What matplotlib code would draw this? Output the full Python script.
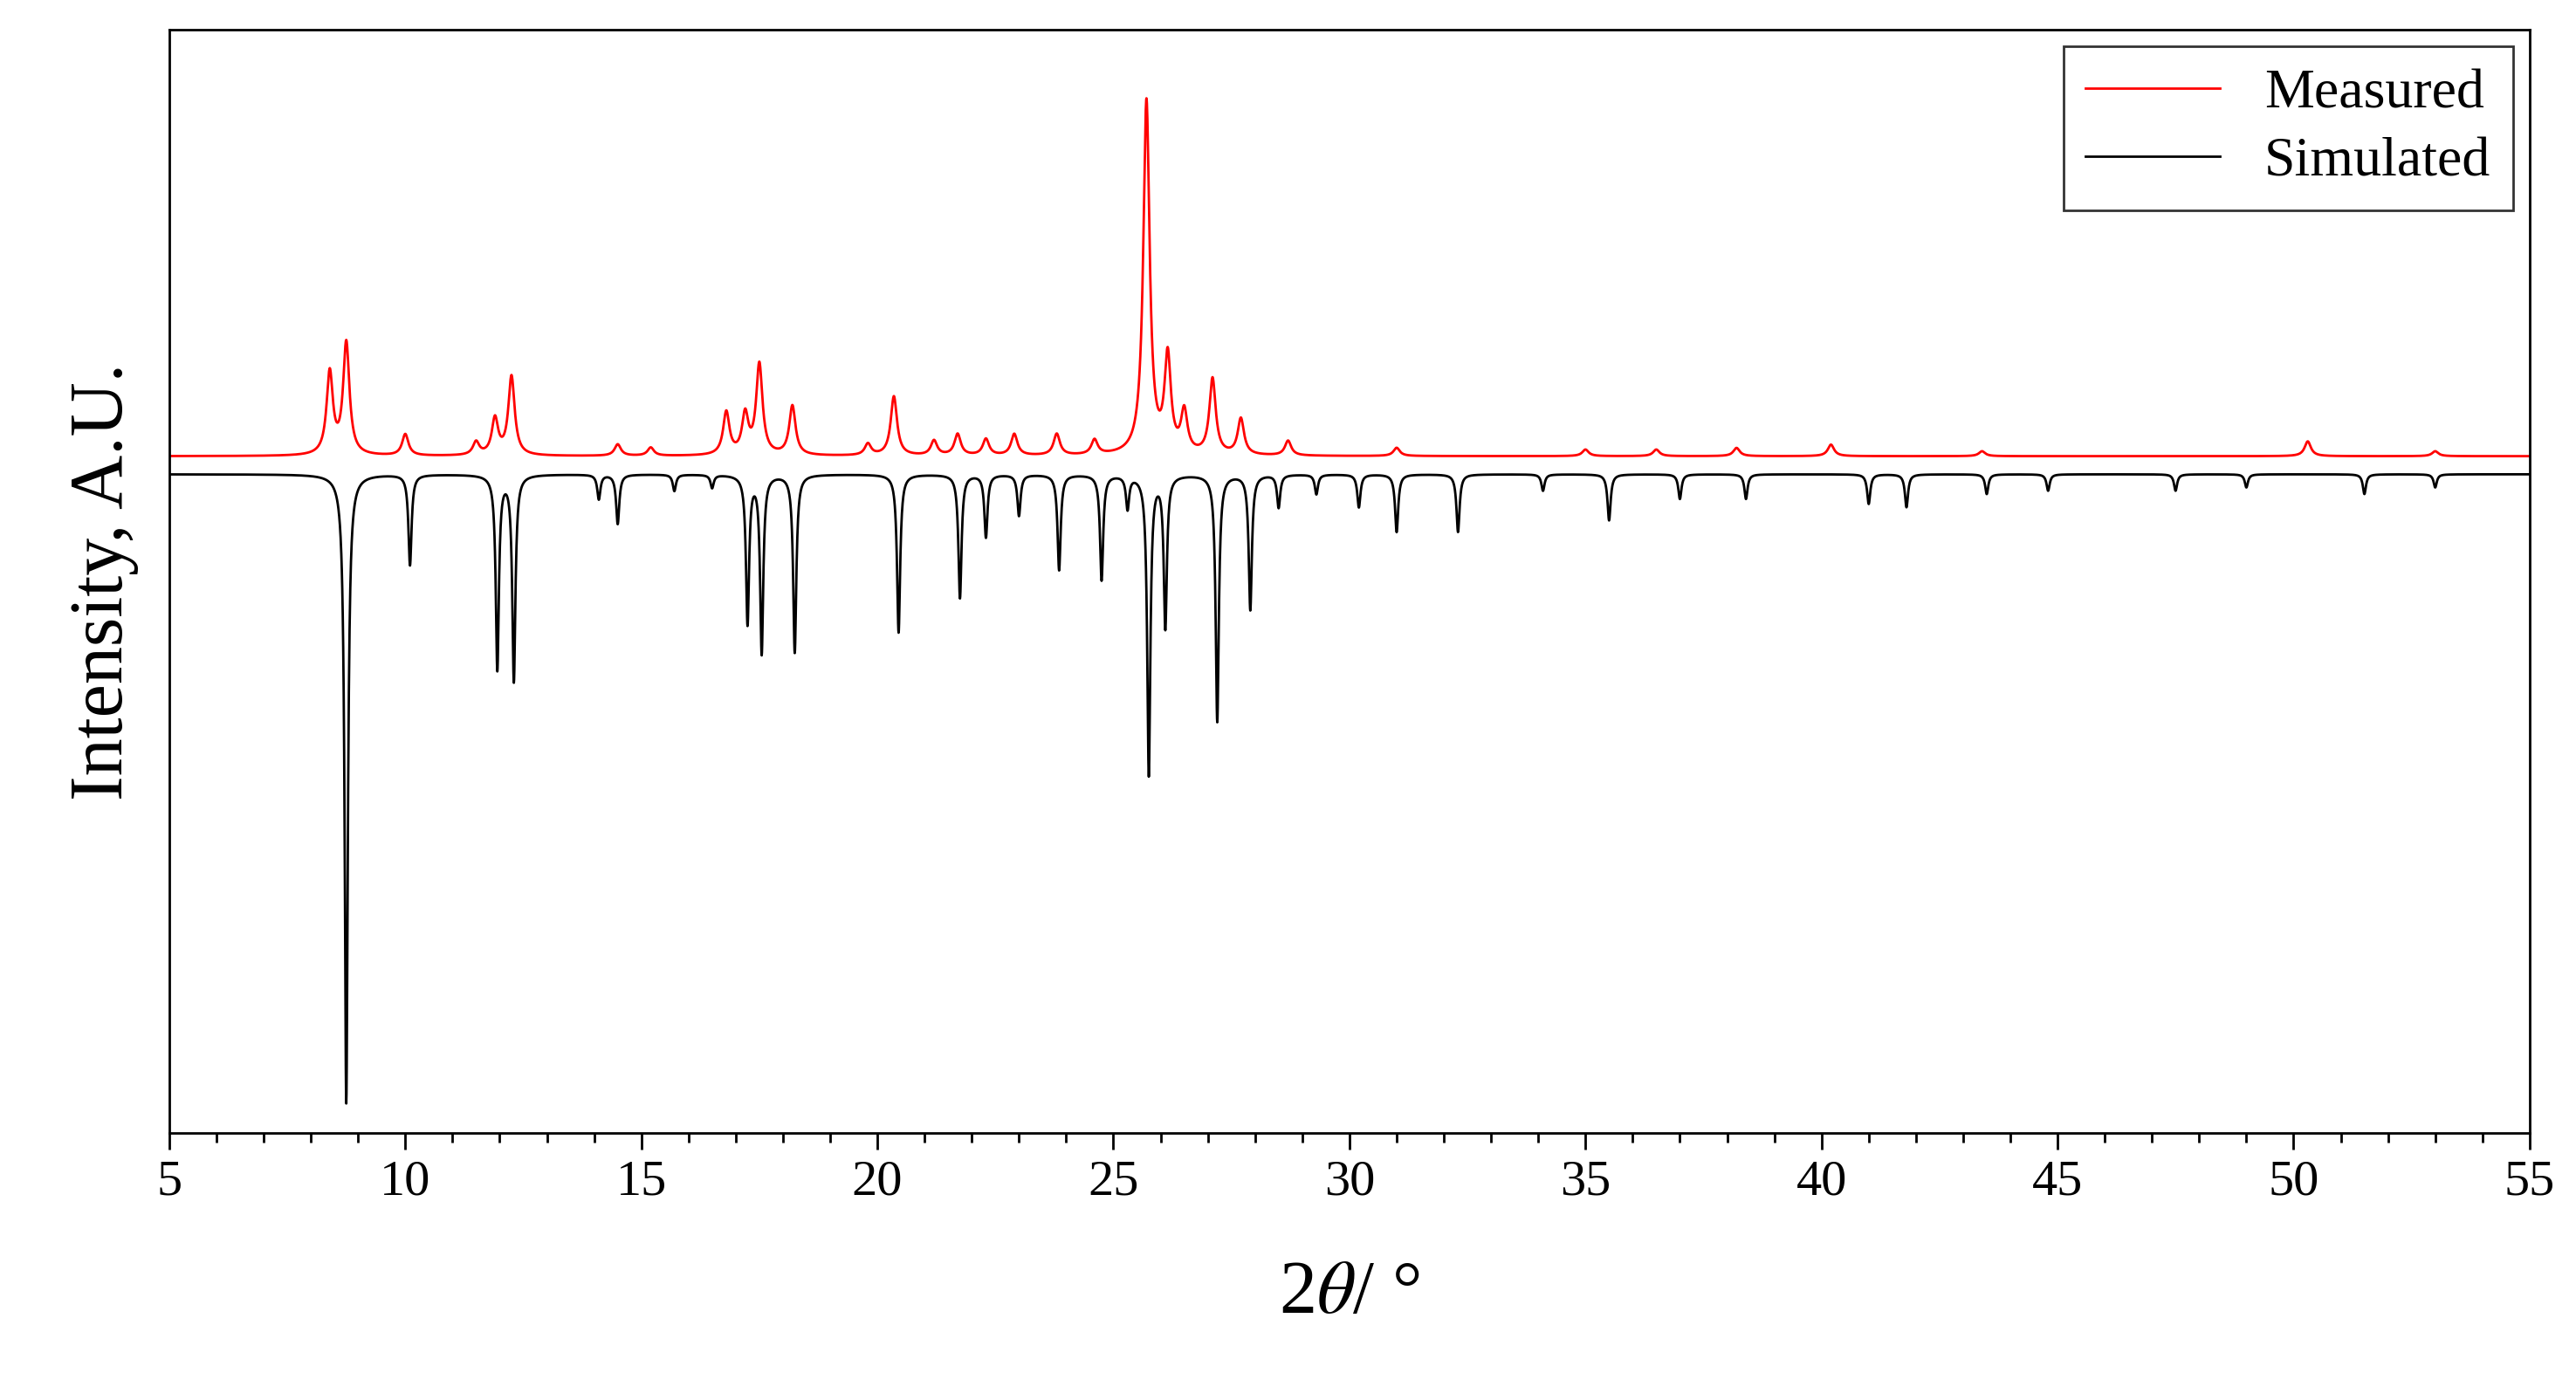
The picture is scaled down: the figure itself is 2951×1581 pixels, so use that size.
import numpy as np
import matplotlib
matplotlib.use("Agg")
import matplotlib.pyplot as plt
from matplotlib.ticker import MultipleLocator

plt.rcParams['font.family'] = ['Liberation Serif', 'DejaVu Serif']
plt.rcParams['mathtext.fontset'] = 'stix'

# Measured pattern: peak positions (2theta), heights above baseline
meas_pos = [8.4, 8.75, 10.0, 11.5, 11.9, 12.25, 14.5, 15.2, 16.8, 17.2, 17.5, 18.2, 19.8, 20.35, 21.2,
            21.7, 22.3, 22.9, 23.8, 24.6, 25.7, 26.15, 26.5, 27.1, 27.7, 28.7, 31.0, 35.0, 36.5, 38.2,
            40.2, 43.4, 50.3, 53.0]
meas_h = [50, 68, 13, 8, 22, 48, 7, 5, 26, 24, 55, 30, 7, 36, 9,
          13, 10, 13, 13, 9, 215, 58, 25, 46, 22, 9, 5, 4, 4, 5,
          7, 3, 9, 3]
meas_base = 11

# Simulated pattern: peak positions, depths (plotted downwards)
sim_pos = [8.75, 10.1, 11.95, 12.3, 14.1, 14.5, 15.7, 16.5, 17.25, 17.55, 18.25, 20.45, 21.75, 22.3, 23.0,
           23.85, 24.75, 25.3, 25.75, 26.1, 27.2, 27.9, 28.5, 29.3, 30.2, 31.0, 32.3, 34.1, 35.5, 37.0,
           38.4, 41.0, 41.8, 43.5, 44.8, 47.5, 49.0, 51.5, 53.0]
sim_h = [382, 55, 118, 125, 15, 30, 10, 8, 90, 108, 108, 96, 75, 38, 25,
         58, 64, 20, 182, 92, 150, 82, 20, 12, 20, 35, 35, 10, 28, 15,
         15, 18, 20, 12, 10, 10, 8, 12, 8]

x = np.linspace(5, 55, 10001)

def profile(pos, h, w):
    y = np.zeros_like(x)
    for p, a in zip(pos, h):
        y += a / (1 + ((x - p) / w) ** 2)
    return y

meas = meas_base + profile(meas_pos, meas_h, 0.08)
sim = -profile(sim_pos, sim_h, 0.04)

fig = plt.figure(figsize=(29.51, 15.81), dpi=100)
ax = fig.add_axes([0.0657, 0.179, 0.9163, 0.7995])
ax.plot(x, meas, color='red', lw=2, label='Measured')
ax.plot(x, sim, color='black', lw=2, label='Simulated')
ax.set_xlim(5, 55)
ax.set_ylim(-400, 270)
ax.set_yticks([])
ax.xaxis.set_major_locator(MultipleLocator(5))
ax.xaxis.set_minor_locator(MultipleLocator(1))
ax.tick_params(axis='x', which='major', length=14, width=2, labelsize=42, pad=8, direction='out')
ax.tick_params(axis='x', which='minor', length=8, width=2, direction='out')
for s in ax.spines.values():
    s.set_linewidth(2)
ax.set_xlabel(r'2$\theta$/ °', fontsize=62, labelpad=45)
ax.set_ylabel('Intensity, A.U.', fontsize=62, labelpad=25)
leg = ax.legend(loc='upper right', fontsize=46, frameon=True, fancybox=False,
                edgecolor='black', handlelength=2.4, borderaxespad=0.3, labelspacing=0.3)
leg.get_frame().set_linewidth(2)
fig.savefig('out.png', dpi=100)
